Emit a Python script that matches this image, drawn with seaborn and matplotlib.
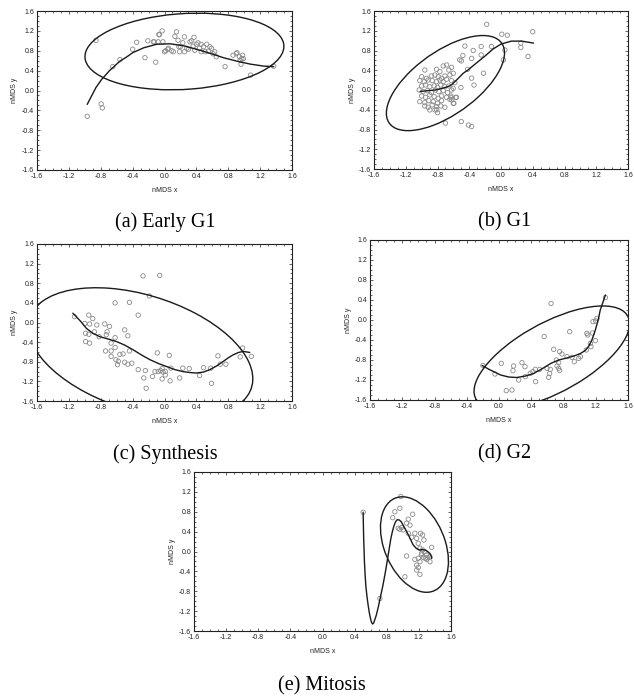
import numpy as np
import pandas as pd
import matplotlib
matplotlib.use("Agg")
import matplotlib.pyplot as plt
from matplotlib.patches import Ellipse
from matplotlib.ticker import MultipleLocator, FormatStrFormatter
import seaborn as sns

# ---------------- data ----------------
captions = ["(a) Early G1", "(b) G1", "(c) Synthesis", "(d) G2", "(e) Mitosis"]
tick_values = [-1.6, -1.2, -0.8, -0.4, 0.0, 0.4, 0.8, 1.2, 1.6]

a_x = [-0.97, -0.795, -0.78, -0.86, -0.65, -0.56, -0.40, -0.35, -0.245, -0.21, -0.11, -0.13, -0.08,
       -0.07, -0.03, -0.02, 0.0, 0.015, 0.04, 0.09, 0.11, 0.13, 0.15, 0.17, 0.18, 0.19, 0.23, 0.25,
       0.25, 0.28, 0.32, 0.36, 0.37, 0.40, 0.42, 0.38, 0.44, 0.46, 0.49, 0.53, 0.51, 0.55, 0.57,
       0.61, 0.63, 0.65, 0.76, 0.86, 0.90, 0.91, 0.94, 0.95, 0.96, 0.98, 0.99, 1.08, 1.37,
       0.05, 0.20, 0.30, 0.34, 0.46, 0.59, 0.97, -0.065, -0.14]
a_y = [-0.52, -0.27, -0.35, 1.01, 0.48, 0.62, 0.83, 0.97, 0.66, 1.0, 0.57, 0.98, 0.98,
       1.13, 1.2, 0.98, 0.78, 0.8, 0.83, 0.8, 0.78, 1.09, 1.18, 1.01, 0.88, 0.78, 0.96, 1.08,
       0.78, 0.85, 0.98, 0.89, 1.07, 0.93, 0.96, 0.81, 0.85, 0.78, 0.88, 0.93, 0.78, 0.79, 0.88,
       0.74, 0.78, 0.68, 0.48, 0.71, 0.74, 0.76, 0.68, 0.61, 0.53, 0.71, 0.64, 0.31, 0.49,
       0.85, 0.88, 0.83, 1.0, 0.93, 0.85, 0.64, 1.12, 0.98]
a_curve_x = [-0.97, -0.86, -0.79, -0.69, -0.56, -0.47, -0.40, -0.26, -0.10, 0.07, 0.24, 0.40,
             0.57, 0.74, 0.91, 1.08, 1.25, 1.37]
a_curve_y = [-0.28, 0.06, 0.22, 0.40, 0.59, 0.68, 0.76, 0.86, 0.93, 0.94, 0.90, 0.83,
             0.75, 0.66, 0.59, 0.53, 0.49, 0.48]
a_ellipse = [0.25, 0.785, 2.51, 1.52, 7.5]

b_x = [-0.18, 0.01, 0.08, 0.40, 0.25, 0.25, 0.34, -0.12, -0.25, -0.455, -0.35, -0.48, -0.37, -0.25,
       -0.52, -0.50, 0.05, 0.03, -0.22, -0.37, -0.34, -0.42, -0.505, -0.57, -0.60, -0.62, -0.63,
       -0.70, -0.50, -0.41, -0.37, -0.80, -0.81,
       -0.96, -0.812, -0.77, -0.728, -0.686, -0.657, -0.623,
       -1.0, -0.939, -0.876, -0.833, -0.791, -0.749, -0.707, -0.644, -0.602,
       -1.023, -0.968, -0.918, -0.867, -0.812, -0.77, -0.728, -0.686, -0.623, -0.581,
       -1.0, -0.951, -0.897, -0.842, -0.80, -0.758, -0.707, -0.657, -0.602,
       -1.031, -0.981, -0.926, -0.876, -0.825, -0.783, -0.728, -0.673, -0.623,
       -1.0, -0.951, -0.897, -0.842, -0.791, -0.749, -0.686, -0.631, -0.56,
       -1.023, -0.96, -0.909, -0.854, -0.80, -0.749, -0.644, -0.594,
       -0.96, -0.918, -0.867, -0.812, -0.758, -0.707, -0.897, -0.833]
b_y = [1.33, 1.13, 1.11, 1.18, 0.95, 0.86, 0.68, 0.88, 0.88, 0.89, 0.80, 0.70, 0.64, 0.71,
       0.61, 0.59, 0.81, 0.61, 0.34, 0.24, 0.10, 0.42, 0.05, -0.15, -0.27, -0.20, -0.15,
       -0.67, -0.64, -0.71, -0.74, -0.46, -0.40,
       0.405, 0.419, 0.372, 0.486, 0.507, 0.405, 0.459,
       0.27, 0.237, 0.284, 0.304, 0.27, 0.237, 0.284, 0.304, 0.338,
       0.19, 0.169, 0.203, 0.19, 0.169, 0.203, 0.169, 0.217, 0.19, 0.149,
       0.082, 0.102, 0.068, 0.082, 0.055, 0.102, 0.068, 0.082, 0.034,
       0.0, -0.033, -0.013, -0.053, 0.0, -0.033, -0.013, -0.053, 0.0,
       -0.121, -0.148, -0.101, -0.134, -0.168, -0.121, -0.148, -0.121, -0.148,
       -0.236, -0.256, -0.215, -0.236, -0.269, -0.215, -0.188, -0.269,
       -0.323, -0.35, -0.303, -0.337, -0.323, -0.35, -0.404, -0.404]
b_curve_x = [-1.02, -0.90, -0.83, -0.75, -0.665, -0.62, -0.58, -0.53, -0.475, -0.42, -0.33,
             -0.20, -0.10, 0.0, 0.13, 0.26, 0.41]
b_curve_y = [-0.03, -0.01, 0.0, 0.03, 0.07, 0.11, 0.17, 0.25, 0.34, 0.40, 0.52,
             0.69, 0.83, 0.93, 0.99, 0.99, 0.95]
b_ellipse = [-0.70, 0.14, 2.22, 1.00, 56.2]

c_x = [-0.27, -0.06, -0.62, -0.44, -0.33, -0.19, -1.13, -0.95, -0.90, -1.0, -0.94, -0.85, -0.75,
       -0.69, -0.99, -0.95, -0.88, -0.82, -0.73, -0.72, -0.62, -0.99, -0.94, -0.67, -0.50, -0.46,
       -0.44, -0.74, -0.67, -0.62, -0.56, -0.52, -0.50, -0.46, -0.41, -0.67, -0.61, -0.58, -0.59,
       -0.33, -0.24, -0.26, -0.23, -0.12, -0.09, -0.08, -0.03, -0.02, 0.01, 0.01, -0.03, -0.15,
       -0.05, 0.06, 0.08, 0.07, 0.19, 0.23, 0.31, 0.44, 0.49, 0.58, 0.59, 0.67, 0.70, 0.77,
       0.95, 0.98, 1.09]
c_y = [0.95, 0.96, 0.40, 0.41, 0.15, 0.54, 0.12, 0.15, 0.08, -0.02, -0.03, -0.05, -0.03,
       -0.08, -0.22, -0.24, -0.19, -0.29, -0.25, -0.19, -0.31, -0.39, -0.42, -0.42, -0.15, -0.27,
       -0.58, -0.58, -0.58, -0.51, -0.65, -0.64, -0.81, -0.85, -0.83, -0.69, -0.76, -0.79, -0.86,
       -0.96, -0.98, -1.13, -1.34, -1.0, -0.62, -1.0, -0.94, -1.01, -1.0, -1.07, -1.15, -1.10,
       -0.98, -0.67, -0.93, -1.19, -1.13, -0.93, -0.94, -1.08, -0.92, -0.93, -1.24, -0.68, -0.85,
       -0.85, -0.70, -0.52, -0.69]
c_curve_x = [-1.15, -1.05, -0.98, -0.90, -0.81, -0.70, -0.60, -0.50, -0.39, -0.28, -0.18, -0.07,
             0.03, 0.13, 0.23, 0.32, 0.40, 0.49, 0.57, 0.66, 0.74, 0.80, 0.86, 0.93, 0.99, 1.07]
c_curve_y = [0.19, 0.02, -0.12, -0.22, -0.29, -0.34, -0.39, -0.46, -0.56, -0.67, -0.76, -0.84,
             -0.90, -0.96, -1.00, -1.02, -1.03, -1.01, -0.96, -0.88, -0.79, -0.72, -0.66, -0.61,
             -0.59, -0.61]
c_ellipse = [-0.30, -0.62, 3.24, 2.12, -40.8]

d_x = [0.645, 1.32, 1.215, 1.166, 0.877, 0.56, 1.09, 1.195, 1.133, 1.14, 1.083, 1.10, 0.678,
       0.752, 0.781, 0.843, 0.905, 0.988, 1.01, 0.934, 0.711, 0.74, 0.72, 0.74, 0.752, 0.636,
       0.595, 0.628, 0.616, 0.504, 0.45, 0.421, 0.388, 0.454, 0.322, 0.285, 0.326, 0.244, 0.181,
       0.173, 0.028, 0.09, 0.161, -0.05, -0.20, 1.16, 1.20]
d_y = [0.33, 0.45, 0.033, -0.033, -0.233, -0.33, -0.267, -0.413, -0.467, -0.533, -0.60, -0.30,
       -0.587, -0.633, -0.68, -0.733, -0.747, -0.767, -0.733, -0.833, -0.80, -0.853, -0.92, -0.967,
       -1.01, -0.987, -0.967, -1.07, -1.147, -0.987, -0.987, -1.033, -1.067, -1.233, -0.933, -0.853,
       -1.133, -1.20, -0.92, -1.013, -0.867, -1.413, -1.40, -1.08, -0.91, -0.26, -0.02]
d_curve_x = [-0.21, -0.12, 0.02, 0.12, 0.22, 0.33, 0.43, 0.54, 0.64, 0.74, 0.84, 0.93, 1.01,
             1.07, 1.11, 1.15, 1.195, 1.23, 1.256, 1.29, 1.32]
d_curve_y = [-0.91, -0.99, -1.10, -1.14, -1.15, -1.12, -1.07, -0.97, -0.87, -0.80, -0.76, -0.72,
             -0.67, -0.61, -0.53, -0.41, -0.20, 0.0, 0.20, 0.36, 0.50]
d_ellipse = [0.655, -0.75, 2.57, 1.17, 47.9]

e_x = [0.506, 0.976, 0.901, 0.963, 0.875, 1.122, 1.068, 1.047, 1.089, 0.943, 0.963, 0.984, 1.005,
       1.068, 1.11, 1.15, 1.172, 1.221, 1.246, 1.263, 1.192, 1.213, 1.246, 1.275, 1.234, 1.296,
       1.338, 1.359, 1.305, 1.338, 1.255, 1.192, 1.15, 1.213, 1.172, 1.192, 1.172, 1.213, 1.047,
       1.026, 0.715, 1.28, 1.23, 1.30]
e_y = [0.79, 1.108, 0.80, 0.87, 0.68, 0.75, 0.65, 0.57, 0.53, 0.468, 0.449, 0.483, 0.435,
       0.367, 0.286, 0.367, 0.266, 0.367, 0.333, 0.232, 0.165, 0.064, 0.03, -0.003, -0.037, -0.07,
       -0.104, 0.084, -0.118, -0.205, -0.118, -0.138, -0.158, -0.205, -0.273, -0.32, -0.374, -0.46,
       -0.091, -0.509, -0.946, -0.14, -0.07, -0.16]
e_curve_x = [0.506, 0.509, 0.512, 0.517, 0.522, 0.530, 0.54, 0.555, 0.57, 0.585, 0.60, 0.612,
             0.623, 0.637, 0.65, 0.67, 0.69, 0.71, 0.73, 0.75, 0.77, 0.79, 0.81, 0.83, 0.85, 0.87,
             0.89, 0.91, 0.93, 0.955, 0.98, 1.0, 1.035, 1.07, 1.10, 1.13, 1.17, 1.21, 1.245, 1.275,
             1.31, 1.338, 1.355, 1.36]
e_curve_y = [0.79, 0.55, 0.30, 0.05, -0.20, -0.45, -0.70, -0.92, -1.10, -1.25, -1.37, -1.43,
             -1.46, -1.44, -1.38, -1.28, -1.15, -1.00, -0.85, -0.70, -0.53, -0.35, -0.15, 0.05,
             0.25, 0.40, 0.52, 0.60, 0.64, 0.635, 0.60, 0.54, 0.44, 0.33, 0.23, 0.13, 0.06, 0.03,
             0.04, 0.03, 0.0, -0.04, -0.10, -0.14]
e_ellipse = [1.145, 0.14, 1.95, 0.78, -79.4]

# --------------- layout (pixels in a 634x700 canvas) ---------------
W, H = 634, 700
axes_px = [  # left, right, top, bottom
    (37, 292, 11, 170),
    (374, 628, 11, 169),
    (37, 292, 244, 401),
    (370, 628, 240, 400),
    (194, 451, 472, 631),
]
caption_px = [(165, 222), (505, 222), (165, 454), (505, 454), (322, 686)]

sns.set_theme(style="ticks")
plt.rcParams['font.family'] = ['Liberation Sans', 'DejaVu Sans']

fig = plt.figure(figsize=(W / 100, H / 100), dpi=100)

panels = [
    (a_x, a_y, a_curve_x, a_curve_y, a_ellipse),
    (b_x, b_y, b_curve_x, b_curve_y, b_ellipse),
    (c_x, c_y, c_curve_x, c_curve_y, c_ellipse),
    (d_x, d_y, d_curve_x, d_curve_y, d_ellipse),
    (e_x, e_y, e_curve_x, e_curve_y, e_ellipse),
]

line_col = "#1a1a1a"
for (px, py, cx, cy, ell), (l, r, t, b), cap, (capx, capy) in zip(panels, axes_px, captions, caption_px):
    ax = fig.add_axes([l / W, 1 - b / H, (r - l) / W, (b - t) / H])
    pts = pd.DataFrame({"x": px, "y": py})
    crv = pd.DataFrame({"x": cx, "y": cy})
    sns.scatterplot(data=pts, x="x", y="y", ax=ax, marker="o", s=10,
                    facecolor="none", edgecolor="#8a8a8a", linewidth=0.6, zorder=2)
    sns.lineplot(data=crv, x="x", y="y", ax=ax, sort=False, estimator=None,
                 color=line_col, linewidth=1.0, zorder=3)
    ax.add_patch(Ellipse((ell[0], ell[1]), ell[2], ell[3], angle=ell[4], fill=False,
                         edgecolor=line_col, linewidth=1.0, zorder=3))
    ax.set_xlim(-1.6, 1.6)
    ax.set_ylim(-1.6, 1.6)
    ax.set_xticks(tick_values)
    ax.set_yticks(tick_values)
    ax.xaxis.set_major_formatter(FormatStrFormatter('%.1f'))
    ax.yaxis.set_major_formatter(FormatStrFormatter('%.1f'))
    ax.xaxis.set_minor_locator(MultipleLocator(0.1))
    ax.yaxis.set_minor_locator(MultipleLocator(0.1))
    ax.tick_params(which="both", direction="in", top=True, right=True,
                   labelsize=5, width=0.5, colors="#222222", pad=2)
    ax.tick_params(which="major", length=2.5)
    ax.tick_params(which="minor", length=1.2)
    for sp in ax.spines.values():
        sp.set_visible(True)
        sp.set_linewidth(0.8)
        sp.set_color("#222222")
    ax.set_xlabel("nMDS x", fontsize=5, labelpad=5, color="#222222")
    ax.set_ylabel("nMDS y", fontsize=5, labelpad=2.5, color="#222222")
    fig.text(capx / W, 1 - capy / H, cap, ha="center", va="center",
             fontsize=14.5, family=["Liberation Serif", "DejaVu Serif"], color="black")

fig.savefig("out.png", dpi=100, facecolor="white")
